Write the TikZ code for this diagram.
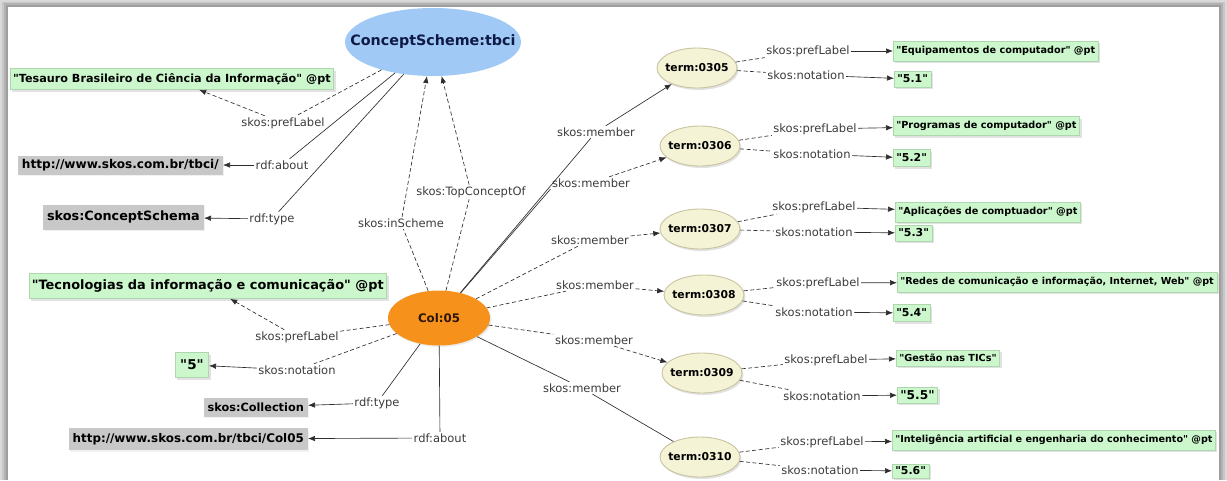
\documentclass[tikz,border=0pt]{standalone}
\usepackage{fontspec}
\setmainfont{DejaVu Sans}[Ligatures=TeXOff]
\usetikzlibrary{shapes.geometric,arrows.meta,shadows}

\definecolor{csblue}{RGB}{160,202,245}
\definecolor{csnavy}{RGB}{15,25,70}
\definecolor{colorange}{RGB}{246,146,28}
\definecolor{coltext}{RGB}{45,22,5}
\definecolor{termfill}{RGB}{245,243,214}
\definecolor{termline}{RGB}{200,196,160}
\definecolor{litfill}{RGB}{204,247,204}
\definecolor{litline}{RGB}{175,215,175}
\definecolor{resfill}{RGB}{200,200,200}
\definecolor{lbltext}{RGB}{60,60,60}
\definecolor{edgecol}{RGB}{45,45,45}

\newcommand\fsz[1]{\fontsize{#1}{#1}\selectfont}
\newcommand\qq{\symbol{34}}

\tikzset{
  csnode/.style={ellipse, fill=csblue, minimum width=176pt, minimum height=68pt, inner sep=0pt,
    font=\bfseries\fsz{14.3}, text=csnavy},
  colnode/.style={ellipse, fill=colorange, minimum width=102pt, minimum height=55pt, inner sep=0pt,
    font=\bfseries\fsz{11.8}, text=coltext, drop shadow={shadow xshift=1.5pt, shadow yshift=-1.5pt, fill=black!15}},
  termnode/.style={ellipse, fill=termfill, draw=termline, line width=0.9pt, minimum width=80pt, minimum height=40pt,
    inner sep=0pt, font=\bfseries\fsz{10.8}, text=black,
    drop shadow={shadow xshift=1.5pt, shadow yshift=-2pt, fill=black!22}},
  lit/.style={rectangle, fill=litfill, draw=litline, line width=0.6pt, inner xsep=3pt, inner ysep=0pt,
    font=\bfseries\fsz{9.7}, text=black,
    drop shadow={shadow xshift=2pt, shadow yshift=-2pt, fill=black!22}},
  res/.style={rectangle, fill=resfill, inner xsep=4pt, inner ysep=0pt, font=\bfseries\fsz{12.1}, text=black,
    drop shadow={shadow xshift=1.5pt, shadow yshift=-1.5pt, fill=black!10}},
  lbl/.style={rectangle, inner sep=1.5pt, font=\fsz{11.5}, text=lbltext},
  rel/.style={draw=edgecol, line width=0.65pt},
  dsh/.style={dash pattern=on 4pt off 2.5pt},
  arr/.style={-{Latex[length=7pt,width=5.5pt]}},
}

\begin{document}
\begin{tikzpicture}[x=1pt,y=-1pt]
\useasboundingbox (0,0) rectangle (1227,480);
% frame
\fill[black!15] (0,0) rectangle (1227,480);
\fill[black!22] (2,1.5) rectangle (1225,480);
\fill[black!30] (4,3) rectangle (1223,480);
\fill[black!38] (6,5) rectangle (1221,480);
\fill[white] (8,7) rectangle (1219,480);

% main ellipses
\node[csnode] (cs) at (433,42) {\makebox[0pt]{ConceptScheme:tbci}};
\node[colnode] (col) at (439,318) {\makebox[0pt]{Col:05}};

% terms
\node[termnode] (t1) at (697,68) {\makebox[0pt]{term:0305}};
\node[termnode] (t2) at (700,146) {\makebox[0pt]{term:0306}};
\node[termnode] (t3) at (700,229) {\makebox[0pt]{term:0307}};
\node[termnode] (t4) at (704,295) {\makebox[0pt]{term:0308}};
\node[termnode] (t5) at (702,373) {\makebox[0pt]{term:0309}};
\node[termnode] (t6) at (700,457) {\makebox[0pt]{term:0310}};

% left boxes
\node[lit, font=\bfseries\fsz{11.2}, minimum height=21pt, anchor=east] (bTes) at (334,79) {\qq Tesauro Brasileiro de Ciência da Informação\qq{} @pt};
\node[res, minimum height=19pt, anchor=east] (bHttp) at (223,165) {http://www.skos.com.br/tbci/};
\node[res, font=\bfseries\fsz{12.8}, minimum height=25pt, anchor=east] (bCSch) at (204,217) {skos:ConceptSchema};
\node[lit, font=\bfseries\fsz{12.9}, minimum height=25pt, anchor=east] (bTec) at (387,286) {\qq Tecnologias da informação e comunicação\qq{} @pt};
\node[lit, font=\bfseries\fsz{13.5}, inner xsep=5pt, minimum height=25pt, anchor=east] (b5) at (209,365) {\qq 5\qq};
\node[res, font=\bfseries\fsz{11.3}, minimum height=19pt, anchor=east] (bColl) at (308,407) {skos:Collection};
\node[res, font=\bfseries\fsz{11.9}, minimum height=22pt, anchor=east] (bCol05) at (308,439) {http://www.skos.com.br/tbci/Col05};

% right boxes
\node[lit, minimum height=20pt, anchor=west] (b1) at (893,51) {\qq Equipamentos de computador\qq{} @pt};
\node[lit, font=\bfseries\fsz{10.9}, minimum height=16pt, anchor=west] (n1) at (894,79) {\qq 5.1\qq};
\node[lit, minimum height=19pt, anchor=west] (b2) at (893,126) {\qq Programas de computador\qq{} @pt};
\node[lit, font=\bfseries\fsz{10.9}, minimum height=17pt, anchor=west] (n2) at (893,158) {\qq 5.2\qq};
\node[lit, minimum height=20pt, anchor=west] (b3) at (895,212) {\qq Aplicações de comptuador\qq{} @pt};
\node[lit, font=\bfseries\fsz{10.9}, minimum height=16pt, anchor=west] (n3) at (895,233) {\qq 5.3\qq};
\node[lit, font=\bfseries\fsz{9.6}, minimum height=20pt, anchor=west] (b4) at (897,282) {\qq Redes de comunicação e informação, Internet, Web\qq{} @pt};
\node[lit, font=\bfseries\fsz{10.9}, minimum height=17pt, anchor=west] (n4) at (893,313) {\qq 5.4\qq};
\node[lit, minimum height=16pt, anchor=west] (b5r) at (896,358) {\qq Gestão nas TICs\qq};
\node[lit, font=\bfseries\fsz{12.2}, minimum height=16pt, anchor=west] (n5) at (897,395) {\qq 5.5\qq};
\node[lit, font=\bfseries\fsz{9.6}, minimum height=20pt, anchor=west] (b6) at (892,440) {\qq Inteligência artificial e engenharia do conhecimento\qq{} @pt};
\node[lit, font=\bfseries\fsz{10.9}, minimum height=14pt, anchor=west] (n6) at (892,471) {\qq 5.6\qq};

% edge labels, ConceptScheme side
\node[lbl] (lCSpref) at (283,123) {skos:prefLabel};
\node[lbl] (lCSabout) at (282,165) {rdf:about};
\node[lbl] (lCStype) at (272,219) {rdf:type};
\node[lbl] (linS) at (401,223) {skos:inScheme};
\node[lbl] (ltop) at (471,192) {skos:TopConceptOf};
% Col side
\node[lbl] (lColpref) at (297,337) {skos:prefLabel};
\node[lbl] (lColnot) at (297,370) {skos:notation};
\node[lbl] (lColtype) at (377,403) {rdf:type};
\node[lbl] (lColabout) at (440,438) {rdf:about};
% members
\node[lbl] (m1) at (596,132) {skos:member};
\node[lbl] (m2) at (591,183) {skos:member};
\node[lbl] (m3) at (590,240) {skos:member};
\node[lbl] (m4) at (595,285) {skos:member};
\node[lbl] (m5) at (594,340) {skos:member};
\node[lbl] (m6) at (582,388) {skos:member};
% term labels
\node[lbl] (p1) at (808,51) {skos:prefLabel};
\node[lbl] (q1) at (806,75) {skos:notation};
\node[lbl] (p2) at (815,129) {skos:prefLabel};
\node[lbl] (q2) at (812,154) {skos:notation};
\node[lbl] (p3) at (814,207) {skos:prefLabel};
\node[lbl] (q3) at (814,232) {skos:notation};
\node[lbl] (p4) at (818,283) {skos:prefLabel};
\node[lbl] (q4) at (814,312) {skos:notation};
\node[lbl] (p5) at (826,360) {skos:prefLabel};
\node[lbl] (q5) at (822,396) {skos:notation};
\node[lbl] (p6) at (822,442) {skos:prefLabel};
\node[lbl] (q6) at (820,470) {skos:notation};

% ConceptScheme relations
\draw[rel,dsh] (cs) -- (lCSpref);
\draw[rel,dsh,arr] (lCSpref) -- (bTes);
\draw[rel] (cs) -- (lCSabout);
\draw[rel,arr] (lCSabout) -- (bHttp);
\draw[rel] (cs) -- (lCStype);
\draw[rel,arr] (lCStype) -- (bCSch);
% Col to ConceptScheme
\draw[rel,dsh] (col) -- (linS);
\draw[rel,dsh,arr] (linS) -- (cs);
\draw[rel,dsh] (col) -- (ltop);
\draw[rel,dsh,arr] (ltop) -- (cs);
% members
\draw[rel] (col) -- (m1);
\draw[rel,arr] (m1) -- (t1);
\draw[rel] (col) -- (m2.south west);
\draw[rel,dsh,arr] (m2) -- (t2);
\draw[rel,dsh] (col) -- (m3);
\draw[rel,dsh,arr] (m3) -- (t3);
\draw[rel,dsh] (col) -- (m4);
\draw[rel,dsh,arr] (m4) -- (t4);
\draw[rel,dsh] (col) -- (m5);
\draw[rel,dsh,arr] (m5) -- (t5);
\draw[rel] (col) -- (m6);
\draw[rel] (m6) -- (t6);
% Col left relations
\draw[rel,dsh] (col) -- (lColpref);
\draw[rel,dsh,arr] (lColpref) -- (bTec);
\draw[rel,dsh] (col) -- (lColnot);
\draw[rel,arr] (lColnot) -- (b5);
\draw[rel] (col) -- (lColtype);
\draw[rel,arr] (lColtype) -- (bColl);
\draw[rel] (col) -- (lColabout);
\draw[rel,arr] (lColabout) -- (bCol05);
% term relations
\draw[rel,dsh] (t1) -- (p1); \draw[rel,arr] (p1) -- (b1);
\draw[rel,dsh] (t1) -- (q1); \draw[rel,arr] (q1) -- (n1);
\draw[rel,dsh] (t2) -- (p2); \draw[rel,arr] (p2) -- (b2);
\draw[rel,dsh] (t2) -- (q2); \draw[rel,arr] (q2) -- (n2);
\draw[rel,dsh] (t3) -- (p3); \draw[rel,arr] (p3) -- (b3);
\draw[rel,dsh] (t3) -- (q3); \draw[rel,arr] (q3) -- (n3);
\draw[rel,dsh] (t4) -- (p4); \draw[rel,arr] (p4) -- (b4);
\draw[rel,dsh] (t4) -- (q4); \draw[rel,arr] (q4) -- (n4);
\draw[rel,dsh] (t5) -- (p5); \draw[rel,arr] (p5) -- (b5r);
\draw[rel,dsh] (t5) -- (q5); \draw[rel,arr] (q5) -- (n5);
\draw[rel,dsh] (t6) -- (p6); \draw[rel,arr] (p6) -- (b6);
\draw[rel,dsh] (t6) -- (q6); \draw[rel,arr] (q6) -- (n6);
\end{tikzpicture}
\end{document}
